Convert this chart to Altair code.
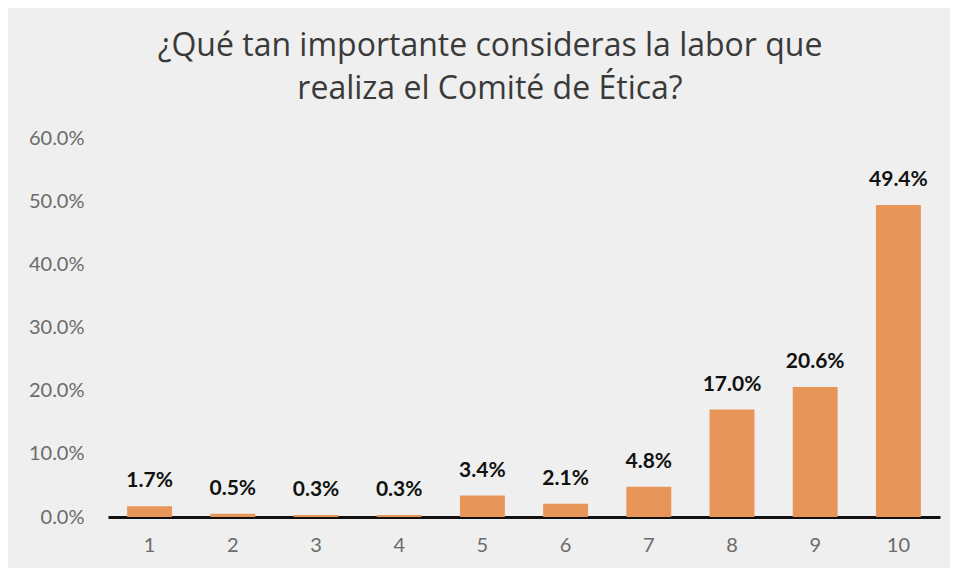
import altair as alt
import pandas as pd

categories = ["1", "2", "3", "4", "5", "6", "7", "8", "9", "10"]
values = [1.7, 0.5, 0.3, 0.3, 3.4, 2.1, 4.8, 17.0, 20.6, 49.4]
y_ticks = [0, 10, 20, 30, 40, 50, 60]

df = pd.DataFrame({"cat": categories, "val": values})
df["label"] = [f"{v:.1f}%" for v in values]

x_enc = alt.X(
    "cat:N", sort=None, title=None,
    scale=alt.Scale(paddingInner=0.46, paddingOuter=0.23),
    axis=alt.Axis(labelAngle=0, labelFont="Lato", labelFontSize=20, labelColor="#6b6b6b",
                  labelPadding=18, ticks=False, domainColor="#111111", domainWidth=3,
                  grid=False),
)
y_enc = alt.Y(
    "val:Q", title=None,
    scale=alt.Scale(domain=[0, 60]),
    axis=alt.Axis(values=y_ticks, labelExpr="format(datum.value, '.1f') + '%'",
                  labelFont="Lato", labelFontSize=20, labelColor="#6b6b6b",
                  labelPadding=24, ticks=False, domain=False, grid=False),
)

bars = alt.Chart(df).mark_bar(color="#E8955A").encode(x=x_enc, y=y_enc)
text = alt.Chart(df).mark_text(
    font="Lato", fontSize=21, fontWeight="bold", color="#111111",
    baseline="alphabetic", dy=-19,
).encode(x=alt.X("cat:N", sort=None), y="val:Q", text="label:N")

chart = alt.layer(bars, text).properties(
    width=832, height=379,
    padding={"left": 100, "top": 130, "right": 10, "bottom": 51},
    autosize=alt.AutoSizeParams(type="none"),
    background="#eeefee",
    title=alt.TitleParams(
        text=["¿Qué tan importante consideras la labor que", "realiza el Comité de Ética?"],
        font="Open Sans", fontSize=32, fontWeight="normal", color="#3a3a3a",
        anchor="middle", dx=-34, offset=22, lineHeight=43,
    ),
).configure_view(stroke=None)

chart.save("out.html", embed_options={"renderer": "svg", "actions": False})
